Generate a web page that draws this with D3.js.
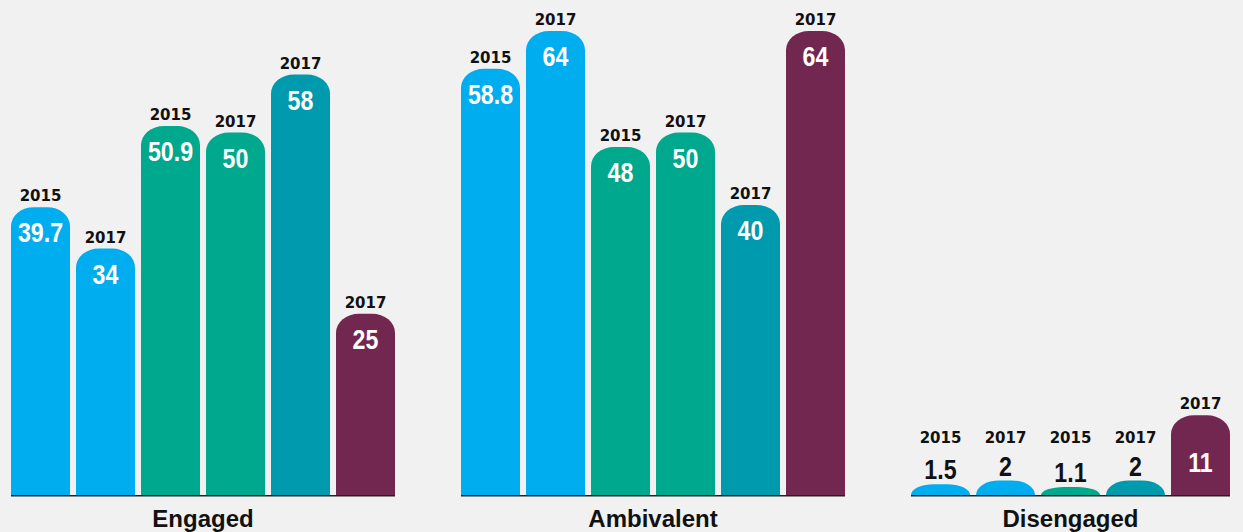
<!DOCTYPE html>
<html>
<head>
<meta charset="utf-8">
<script src="https://cdn.jsdelivr.net/npm/d3@7"></script>
<style>
  body { margin: 0; background: #f1f1f1; }
  svg { display: block; background: #f1f1f1; }
  .year { font-family: "DejaVu Sans", sans-serif; font-weight: bold; font-size: 15px; fill: #111; }
  .val { font-family: "Liberation Sans", sans-serif; font-weight: bold; font-size: 27px; }
  .cat { font-family: "Liberation Sans", sans-serif; font-weight: bold; font-size: 24px; fill: #111; }
  .base { stroke: #222; stroke-width: 1.5; }
</style>
</head>
<body>
<svg id="chart" width="1243" height="532"></svg>
<script>
// data
const groups = ["Engaged", "Ambivalent", "Disengaged"];
const engagedValues = [39.7, 34, 50.9, 50, 58, 25];
const ambivalentValues = [58.8, 64, 48, 50, 40, 64];
const disengagedValues = [1.5, 2, 1.1, 2, 11];
const engagedYears = ["2015", "2017", "2015", "2017", "2017", "2017"];
const ambivalentYears = ["2015", "2017", "2015", "2017", "2017", "2017"];
const disengagedYears = ["2015", "2017", "2015", "2017", "2017"];
const engagedSeries = ["blue", "blue", "green", "green", "teal", "maroon"];
const ambivalentSeries = ["blue", "blue", "green", "green", "teal", "maroon"];
const disengagedSeries = ["blue", "blue", "green", "teal", "maroon"];

const colors = {blue: "#00aeef", green: "#00a88e", teal: "#009aae", maroon: "#722750"};

const rows = [
  {name: groups[0], values: engagedValues, years: engagedYears, series: engagedSeries},
  {name: groups[1], values: ambivalentValues, years: ambivalentYears, series: ambivalentSeries},
  {name: groups[2], values: disengagedValues, years: disengagedYears, series: disengagedSeries}
];

const svg = d3.select("#chart");
const baseY = 495;

const xGroup = d3.scaleBand().domain(groups).range([11, 1295]).paddingInner(66 / 450).paddingOuter(0);
const xBar = d3.scaleBand().domain(d3.range(6)).range([0, xGroup.bandwidth()]).paddingInner(6 / 65).paddingOuter(0);
const y = d3.scaleLinear().domain([0, 64]).range([baseY, 31]);

function capBar(x, top, w, h) {
    let ry = Math.min(19, h);
    let rx = Math.min(23, w / 2);
    return `M${x},${top + h} L${x},${top + ry} A${rx},${ry} 0 0 1 ${x + rx},${top}` +
        ` L${x + w - rx},${top} A${rx},${ry} 0 0 1 ${x + w},${top + ry} L${x + w},${top + h} Z`;
}

// narrow bold figures, squeezed horizontally
function valueLabel(g, cx, vy, v, fill) {
    g.append("text").attr("class", "val")
        .attr("transform", `translate(${cx},${vy}) scale(0.86,1)`)
        .attr("text-anchor", "middle").attr("fill", fill).text(v);
}

rows.forEach(function(r) {
    let g = svg.append("g").attr("transform", `translate(${xGroup(r.name)},0)`);
    let bw = xBar.bandwidth();

    r.values.forEach(function(v, i) {
        let x = xBar(i);
        let top = y(v);
        let h = baseY - top;
        g.append("path").attr("d", capBar(x, top, bw, h)).attr("fill", colors[r.series[i]]);

        let cx = x + bw / 2;
        if (v >= 5) {
            let vy = h < 120 ? top + h * 0.71 : top + 35;
            valueLabel(g, cx, vy, v, "#fff");
            g.append("text").attr("class", "year").attr("x", cx).attr("y", top - 6)
                .attr("text-anchor", "middle").text(r.years[i]);
        } else {
            valueLabel(g, cx, top - 5, v, "#111");
            g.append("text").attr("class", "year").attr("x", cx).attr("y", 443)
                .attr("text-anchor", "middle").text(r.years[i]);
        }
    });

    let right = xBar(r.values.length - 1) + bw;
    g.append("line").attr("class", "base").attr("x1", 0).attr("x2", right)
        .attr("y1", baseY + 0.75).attr("y2", baseY + 0.75);
    g.append("text").attr("class", "cat").attr("x", right / 2).attr("y", 527)
        .attr("text-anchor", "middle").text(r.name);
});
</script>
</body>
</html>
